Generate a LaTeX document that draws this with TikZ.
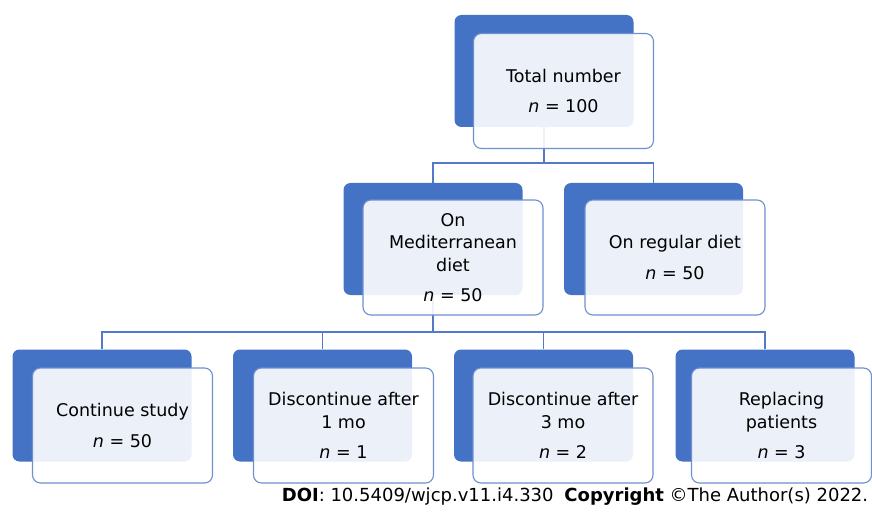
\documentclass[tikz,border=0pt]{standalone}
\usepackage{fontspec}
\setmainfont{DejaVu Sans}
\definecolor{backblue}{HTML}{4472C4}
\definecolor{edgeblue}{HTML}{6E8FD0}
\definecolor{linkblue}{HTML}{5479C6}
\pgfdeclarelayer{bg}
\pgfsetlayers{bg,main}
\begin{document}
\begin{tikzpicture}[x=1pt,y=-1pt,
 back/.style={fill=backblue, rounded corners=7pt, minimum width=179pt, minimum height=112pt, inner sep=0pt},
 front/.style={fill=white, fill opacity=0.9, text opacity=1, draw opacity=1, draw=edgeblue, line width=1.1pt, rounded corners=8pt, minimum width=180pt, minimum height=115pt, inner sep=0pt, align=center, font=\fontsize{17.5}{22.5}\selectfont},
 link/.style={draw=linkblue, line width=1.2pt},
 foot/.style={font=\fontsize{18}{20}\selectfont, inner sep=0pt}]
\useasboundingbox (0,0) rectangle (872,513);
% top
\node[back] (tb) at (544,71) {};
\node[front] (tf) at (563.5,91) {Total number\\[8pt]\textit{n} = 100};
% middle
\node[back] (mlb) at (433,239) {};
\node[front] (mlf) at (453,257.5) {On\\Mediterranean\\diet\\[8pt]\textit{n} = 50};
\node[back] (mrb) at (653.5,239) {};
\node[front] (mrf) at (675,257.5) {On regular diet\\[8pt]\textit{n} = 50};
% bottom
\node[back] (b1b) at (102,405.5) {};
\node[front] (b1f) at (122.5,425.5) {Continue study\\[8pt]\textit{n} = 50};
\node[back] (b2b) at (322.5,405.5) {};
\node[front] (b2f) at (343.5,425.5) {Discontinue after\\1 mo\\[8pt]\textit{n} = 1};
\node[back] (b3b) at (543.5,405.5) {};
\node[front] (b3f) at (563,425.5) {Discontinue after\\3 mo\\[8pt]\textit{n} = 2};
\node[back] (b4b) at (765,405.5) {};
\node[front] (b4f) at (781.5,425.5) {Replacing\\patients\\[8pt]\textit{n} = 3};
% connectors
\coordinate (bus1) at (544,163);
\coordinate (bus2) at (433,332);
\begin{pgfonlayer}{bg}
\draw[link] (tb.south) -- (bus1);
\draw[link] (mlb.north) |- (bus1) -| (mrb.north);
\draw[link] (mlb.south) -- (bus2);
\draw[link] (b1b.north) |- (bus2) -| (b4b.north);
\draw[link] (b2b.north) -- (b2b.north |- bus2);
\draw[link] (b3b.north) -- (b3b.north |- bus2);
\end{pgfonlayer}
% footer
\node[foot] (doi) at (575,497) {\textbf{DOI}: 10.5409/wjcp.v11.i4.330\hspace{0.6em}\textbf{Copyright} ©The Author(s) 2022.};
\end{tikzpicture}
\end{document}
